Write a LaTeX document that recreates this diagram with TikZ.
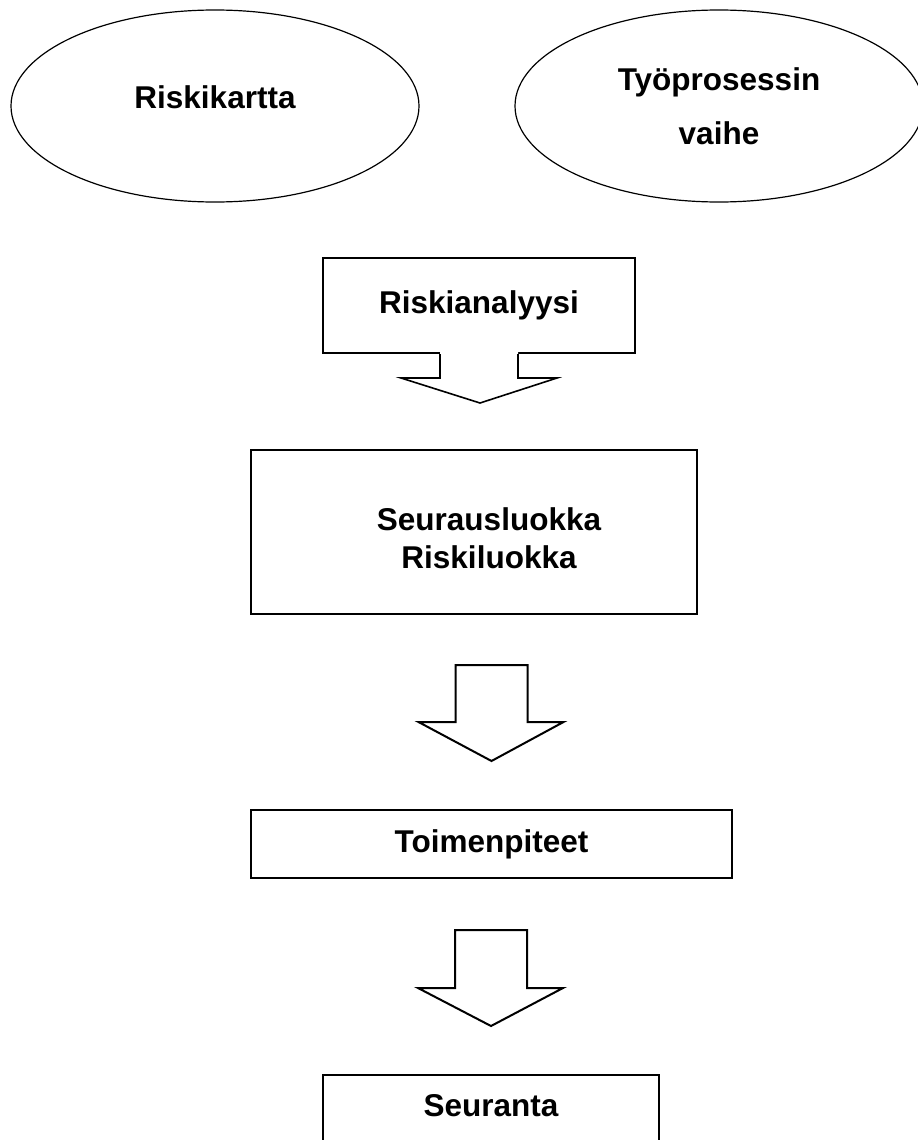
\documentclass[tikz,border=0pt]{standalone}
\usepackage{fontspec}
\setmainfont{Liberation Sans}
\usetikzlibrary{shapes.geometric}

\begin{document}
\begin{tikzpicture}[x=0.5pt,y=-0.5pt,line join=miter,
  every node/.style={font=\bfseries\fontsize{15.75}{18}\selectfont,align=center,inner sep=0pt},
  oval/.style={draw,ellipse,line width=0.6pt,minimum width=204pt,minimum height=96pt},
  stepbox/.style={draw,rectangle,line width=1pt},
  blockarrow/.style={draw,fill=white,line width=1pt}]
  \useasboundingbox (0,0) rectangle (917,1140);
%%
  % Node: Riskikartta
  \node[oval,text height=11.5pt,text depth=9.2pt] (kartta) at (215,106) {Riskikartta};
  % Node: Vaihe
  \node[oval,font=\bfseries\fontsize{15.75}{27}\selectfont] (vaihe) at (719,106) {Työprosessin\\vaihe};
  % Node: Analyysi
  \node[stepbox,minimum width=156pt,minimum height=47.5pt] (analyysi) at (479,305.5) {Riskianalyysi};
  % Node: Luokka
  \node[stepbox,minimum width=223pt,minimum height=82pt] (luokka) at (474,532) {};
  \node[font=\bfseries\fontsize{15.75}{19}\selectfont] (luokkateksti) at (489,538) {Seurausluokka\\Riskiluokka};
  % Node: Toimet
  \node[stepbox,minimum width=240.5pt,minimum height=34pt] (toimet) at (491.5,844) {Toimenpiteet};
  % Node: Seuranta
  \node[stepbox,anchor=north,minimum width=168pt,text height=11.5pt,text depth=60pt,inner ysep=9.25pt] (seuranta) at (491,1074) {Seuranta};
  % Edge: Analyysi -> Luokka
  \begin{scope}[shift={(analyysi.south)}]
    \fill[white] (-39,-2) -- (-39,24) -- (-78,24) -- (1,49) -- (78,24) -- (39,24) -- (39,-2) -- cycle;
    \draw[line width=0.8pt] (-39,0) -- (-39,24) -- (-78,24) -- (1,49) -- (78,24) -- (39,24) -- (39,0);
  \end{scope}
  % Edge: Luokka -> Toimet
  \begin{scope}[shift={(toimet.north)}]
    \draw[blockarrow] (-36,-144) -- (-36,-87) -- (-73,-87) -- (0,-48) -- (72,-87) -- (36,-87) -- (36,-144) -- cycle;
  \end{scope}
  % Edge: Toimet -> Seuranta
  \begin{scope}[shift={(seuranta.north)}]
    \draw[blockarrow] (-36,-144) -- (-36,-86) -- (-73,-86) -- (0,-48) -- (72,-86) -- (36,-86) -- (36,-144) -- cycle;
  \end{scope}
%
\end{tikzpicture}
\end{document}
